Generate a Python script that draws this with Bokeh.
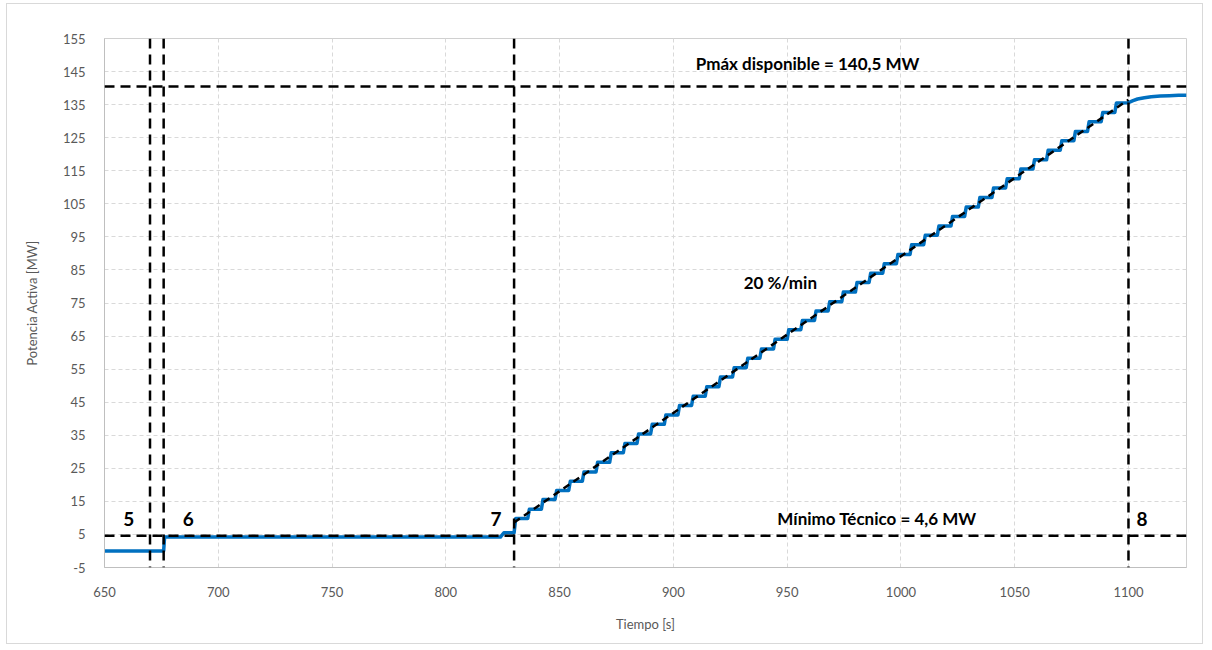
from bokeh.plotting import figure
from bokeh.models import Range1d, FixedTicker, Span, Label
from bokeh.embed import file_html
from bokeh.resources import INLINE

# ---- data ----
x_ticks = [650, 700, 750, 800, 850, 900, 950, 1000, 1050, 1100]
y_ticks = [-5, 5, 15, 25, 35, 45, 55, 65, 75, 85, 95, 105, 115, 125, 135, 145, 155]

# measured active power before the ramp
pre_t = [650, 676, 676.4, 824, 825.5, 830]
pre_p = [0.0, 0.0, 4.2, 4.2, 5.5, 5.5]

# staircase of the ramp (time of each step, level reached)
step_t = [830, 836, 842, 848, 854, 860, 866, 872, 878, 884, 890, 896, 902, 908, 914,
          920, 926, 932, 938, 944, 950, 956, 962, 968, 974, 980, 986, 992, 998, 1004,
          1010, 1016, 1022, 1028, 1034, 1040, 1046, 1052, 1058, 1064, 1070, 1076, 1082,
          1088, 1094]
step_p = [9.8, 12.6, 15.6, 18.3, 21.1, 23.9, 26.8, 29.7, 32.5, 35.4, 38.3, 41.1, 44.0,
          46.8, 49.7, 52.6, 55.4, 58.3, 61.1, 64.0, 66.9, 69.7, 72.6, 75.4, 78.3, 81.2,
          84.0, 86.9, 89.7, 92.6, 95.5, 98.3, 101.2, 104.0, 106.9, 109.8, 112.6, 115.5,
          118.3, 121.2, 124.1, 126.9, 129.8, 132.6, 135.5]

# after the ramp
tail_t = [1100, 1102, 1104, 1107, 1110, 1114, 1118, 1122, 1125.5]
tail_p = [135.6, 136.2, 136.7, 137.1, 137.4, 137.6, 137.7, 137.8, 137.8]

# theoretical 20 %/min ramp
ramp_t = [830, 1100]
ramp_p = [8.6, 136.5]

# reference lines
v_lines = [670, 676, 830, 1100]
h_lines = [140.5, 4.6]

# ---- build the measured curve ----
xs = list(pre_t)
ys = list(pre_p)
prev = pre_p[-1]
for t, lv in zip(step_t, step_p):
    xs += [t, t + 0.7]
    ys += [prev, lv]
    prev = lv
xs += tail_t
ys += tail_p

FONT = "Lato"
GRAY = "#595959"

p = figure(width=1197, height=641, output_backend="svg", toolbar_location=None,
           x_range=Range1d(650, 1125.5), y_range=Range1d(-5, 155),
           min_border_left=97, min_border_right=18, min_border_top=34, min_border_bottom=78)
p.styles = {"border": "1px solid #d9d9d9", "margin": "3px 0 0 6px"}
p.outline_line_color = "#d0d0d0"
p.background_fill_color = "white"
p.border_fill_color = "white"

for ax in (p.xaxis[0], p.yaxis[0]):
    ax.major_tick_line_color = None
    ax.minor_tick_line_color = None
    ax.axis_line_color = "#bfbfbf"
    ax.major_label_text_font = FONT
    ax.major_label_text_font_size = "13px"
    ax.major_label_text_color = GRAY
    ax.major_label_standoff = 13
    ax.axis_label_text_font = FONT
    ax.axis_label_text_font_size = "13px"
    ax.axis_label_text_font_style = "normal"
    ax.axis_label_text_color = GRAY

p.xaxis.ticker = FixedTicker(ticks=x_ticks)
p.yaxis.ticker = FixedTicker(ticks=y_ticks)
p.yaxis.major_label_overrides = {-5: "-5"}
p.xaxis.axis_label = "Tiempo [s]"
p.yaxis.axis_label = "Potencia Activa [MW]"
p.xaxis.axis_label_standoff = 16
p.yaxis.axis_label_standoff = 20

for g, tk in ((p.xgrid[0], x_ticks), (p.ygrid[0], y_ticks)):
    g.ticker = FixedTicker(ticks=tk)
    g.grid_line_color = "#d9d9d9"
    g.grid_line_dash = "4 3"
    g.grid_line_width = 1

p.line(xs, ys, line_color="#0070C0", line_width=3.5, line_join="round")
p.line(ramp_t, ramp_p, line_color="black", line_width=2.5, line_dash="7 5")

for v in v_lines:
    p.add_layout(Span(location=v, dimension="height", line_color="black",
                      line_width=2.5, line_dash="10 6"))
for h in h_lines:
    p.add_layout(Span(location=h, dimension="width", line_color="black",
                      line_width=2.5, line_dash="10 6"))

def lab(x, y, text, size="17px"):
    p.add_layout(Label(x=x, y=y, text=text, text_font=FONT, text_font_style="bold",
                       text_font_size=size, text_color="black", text_align="center",
                       text_baseline="middle"))

lab(959.0, 147.3, "Pmáx disponible = 140,5 MW")
lab(947.0, 81.3, "20 %/min")
lab(989.5, 9.8, "Mínimo Técnico = 4,6 MW")
lab(660.7, 9.8, "5", "19px")
lab(686.8, 9.8, "6", "19px")
lab(822.0, 9.8, "7", "19px")
lab(1106.0, 9.8, "8", "19px")

open("out.html", "w").write(file_html(p, INLINE))
